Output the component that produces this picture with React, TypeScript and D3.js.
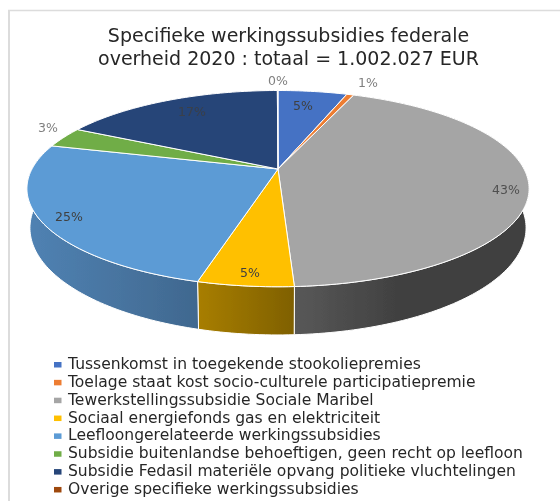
import React from "react";
import * as d3 from "d3";

const titleLines = ["Specifieke werkingssubsidies federale", "overheid 2020 : totaal = 1.002.027 EUR"];
const categories = [
  "Tussenkomst in toegekende stookoliepremies",
  "Toelage staat kost socio-culturele participatiepremie",
  "Tewerkstellingssubsidie Sociale Maribel",
  "Sociaal energiefonds gas en elektriciteit",
  "Leefloongerelateerde werkingssubsidies",
  "Subsidie buitenlandse behoeftigen, geen recht op leefloon",
  "Subsidie Fedasil materiële opvang politieke vluchtelingen",
  "Overige specifieke werkingssubsidies",
];
const values = [5.4, 0.55, 43.2, 5.1, 24.9, 3.4, 17.4, 0.05];
const pctLabels = ["5%", "1%", "43%", "5%", "25%", "3%", "17%", "0%"];
const topColors = ["#4472c4", "#ed7d31", "#a5a5a5", "#ffc000", "#5b9bd5", "#70ad47", "#264478", "#9e480e"];
const wallLeft = ["#3a62a8", "#c96a2a", "#585858", "#a87e00", "#5082b3", "#5f933c", "#203a66", "#863d0c"];
const wallRight = ["#2f5597", "#a85822", "#404040", "#7f6000", "#40688f", "#4e7a32", "#1a3055", "#6e320a"];
const labelPos: [number, number][] = [[303, 110], [368, 87], [506, 194], [250, 277], [69, 221], [48, 132], [192, 116], [278, 85]];
const labelColors = ["#404040", "#7f7f7f", "#505050", "#404040", "#404040", "#7f7f7f", "#3a4048", "#7f7f7f"];

const K = 0.2;
const project = (a: number, ax: number, ay: number, sx: number, sy: number): [number, number] => {
  const u = Math.sin(a), v = -Math.cos(a), w = 1 - K * v;
  return [ax + (sx * 246 * u) / w, ay + (sy * 94.2 * v) / w];
};
const AX = 278, AY = 169, BY = 206.6, BSX = 0.988, BSY = 1.09;

const arcPts = (a0: number, a1: number, ay: number, sx: number, sy: number) => {
  const n = Math.max(2, Math.ceil((a1 - a0) / 0.02));
  return d3.range(n + 1).map((i) => project(a0 + ((a1 - a0) * i) / n, AX, ay, sx, sy));
};
const line = d3.line();

export default function App() {
  const arcs = d3.pie<number>().sort(null)(values);
  return (
    <svg width={560} height={501} style={{ position: "absolute", left: 0, top: 0, background: "#fff" }}>
      <defs>
        <filter id="soft" x="-5%" y="-5%" width="110%" height="110%"><feGaussianBlur stdDeviation="0.45" /></filter>
        {arcs.map((d, i) => {
          const vis = arcPts(d.startAngle, d.endAngle, AY, 1, 1).filter((p) => p[1] > 188);
          if (vis.length < 2) return null;
          const [x1, x2] = d3.extent(vis, (p) => p[0]) as [number, number];
          return (
            <linearGradient key={i} id={`w${i}`} gradientUnits="userSpaceOnUse" x1={x1} x2={x2} y1={0} y2={0}>
              <stop offset="0" stopColor={wallLeft[i]} />
              <stop offset={i === 2 ? "0.45" : "1"} stopColor={wallRight[i]} />
            </linearGradient>
          );
        })}
      </defs>
      <line x1={9} x2={9} y1={10} y2={501} stroke="#dcdcdc" strokeWidth={2} />
      <line x1={8} x2={560} y1={10.5} y2={10.5} stroke="#dcdcdc" strokeWidth={1.5} />
      <g filter="url(#soft)">
        {arcs.map((d, i) => {
          const top = arcPts(d.startAngle, d.endAngle, AY, 1, 1);
          const bot = arcPts(d.startAngle, d.endAngle, BY, BSX, BSY).reverse();
          if (!top.some((p) => p[1] > 188)) return null;
          return <path key={i} d={line([...top, ...bot]) + "Z"} fill={`url(#w${i})`} stroke="#fff" strokeWidth={1} />;
        })}
        {arcs.map((d, i) => {
          const pts = arcPts(d.startAngle, d.endAngle, AY, 1, 1);
          return <path key={i} d={line([[AX, AY], ...pts]) + "Z"} fill={topColors[i]} stroke="#fff" strokeWidth={1} strokeLinejoin="round" />;
        })}
        {pctLabels.map((t, i) => (
          <text key={i} x={labelPos[i][0]} y={labelPos[i][1]} textAnchor="middle" fontFamily="'DejaVu Sans'" fontSize={12.5} fill={labelColors[i]}>{t}</text>
        ))}
        {titleLines.map((t, i) => (
          <text key={i} x={288.5} y={41.5 + i * 23.5} textAnchor="middle" fontFamily="'DejaVu Sans'" fontSize={19} fill="#262626">{t}</text>
        ))}
        {categories.map((t, i) => (
          <g key={i}>
            <rect x={54} y={362 + i * 17.85} width={7.5} height={5.5} fill={topColors[i]} />
            <text x={68} y={369 + i * 17.85} fontFamily="'DejaVu Sans'" fontSize={15.55} fill="#262626">{t}</text>
          </g>
        ))}
      </g>
    </svg>
  );
}
